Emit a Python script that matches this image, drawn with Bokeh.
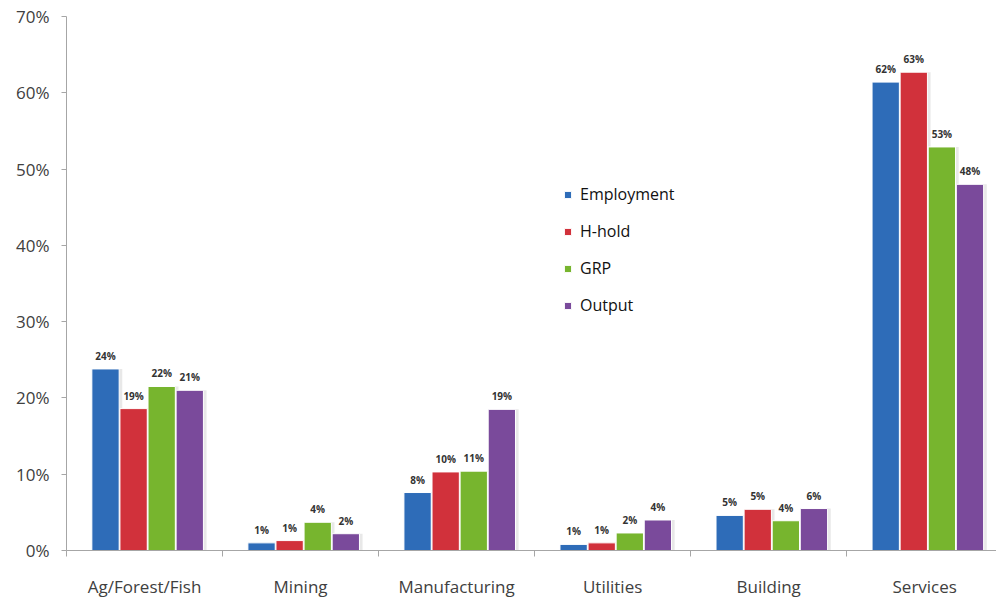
import numpy as np
from bokeh.plotting import figure
from bokeh.models import (ColumnDataSource, Range1d, FixedTicker, Legend, LegendItem)
from bokeh.core.properties import value
from bokeh.transform import dodge
from bokeh.embed import file_html
from bokeh.resources import INLINE

categories = ["Ag/Forest/Fish", "Mining", "Manufacturing", "Utilities", "Building", "Services"]
series = ["Employment", "H-hold", "GRP", "Output"]
employment = [23.8, 1.0, 7.6, 0.8, 4.6, 61.4]
hhold = [18.6, 1.3, 10.3, 1.0, 5.4, 62.7]
grp = [21.5, 3.7, 10.4, 2.3, 3.9, 52.9]
output = [21.0, 2.2, 18.5, 4.0, 5.5, 48.0]
emp_labels = ["24%", "1%", "8%", "1%", "5%", "62%"]
hh_labels = ["19%", "1%", "10%", "1%", "5%", "63%"]
grp_labels = ["22%", "4%", "11%", "2%", "4%", "53%"]
out_labels = ["21%", "2%", "19%", "4%", "6%", "48%"]
y_ticks = [0, 10, 20, 30, 40, 50, 60, 70]
colors = ["#2e6cb8", "#d1313b", "#77b52e", "#7a4a9b"]

values = [employment, hhold, grp, output]
labels = [emp_labels, hh_labels, grp_labels, out_labels]

FONT = "Open Sans"

p = figure(width=996, height=600, output_backend="svg", toolbar_location=None,
           x_range=Range1d(0, 5.96), y_range=Range1d(0, 70),
           min_border_left=66, min_border_right=0, min_border_top=16, min_border_bottom=45)
p.outline_line_color = None
p.xgrid.grid_line_color = None
p.ygrid.grid_line_color = None
p.background_fill_color = "white"
p.border_fill_color = "white"

idx = np.arange(len(categories))
bar_w = 0.175
offsets = [(-1.5 + j) * 0.18 for j in range(4)]

renderers = []
for j, name in enumerate(series):
    xs = idx + 0.52 + offsets[j]
    src = ColumnDataSource(dict(x=xs, top=values[j], lab=labels[j]))
    p.vbar(x=dodge("x", 0.02), top="top", width=bar_w, source=src,
           fill_color="#d8d8d8", line_color=None, fill_alpha=0.6)
    r = p.vbar(x="x", top="top", width=bar_w, source=src,
               fill_color=colors[j], line_color="white", line_width=1)
    renderers.append(r)
    p.text(x="x", y="top", text="lab", source=src, text_align="center",
           text_baseline="bottom", y_offset=-6, text_font=value(FONT),
           text_font_size="10px", text_color="#333333", text_font_style="bold")

# axes
p.yaxis.ticker = FixedTicker(ticks=y_ticks)
p.yaxis.major_label_overrides = {t: f"{t}%" for t in y_ticks}
p.yaxis.minor_tick_line_color = None
p.yaxis.major_tick_out = 5
p.yaxis.major_tick_in = 0
p.yaxis.axis_line_color = "#a6a6a6"
p.yaxis.major_tick_line_color = "#a6a6a6"
p.yaxis.major_label_text_font = FONT
p.yaxis.major_label_text_font_size = "17px"
p.yaxis.major_label_text_color = "#404040"
p.yaxis.major_label_standoff = 12

centers = [i + 0.5 for i in idx]
p.xaxis.ticker = FixedTicker(ticks=centers, minor_ticks=list(range(len(categories) + 1)))
p.xaxis.major_label_overrides = {c: cat for c, cat in zip(centers, categories)}
p.xaxis.major_tick_line_color = None
p.xaxis.minor_tick_line_color = "#a6a6a6"
p.xaxis.minor_tick_out = 6
p.xaxis.minor_tick_in = 0
p.xaxis.axis_line_color = "#a6a6a6"
p.xaxis.major_label_text_font = FONT
p.xaxis.major_label_text_font_size = "17px"
p.xaxis.major_label_text_color = "#404040"
p.xaxis.major_label_standoff = 18

legend = Legend(items=[LegendItem(label=s, renderers=[r]) for s, r in zip(series, renderers)],
                location=(497, 234), glyph_width=9, glyph_height=9, label_height=20,
                spacing=15, padding=0, margin=0, label_standoff=8,
                label_text_font=FONT, label_text_font_size="16px",
                label_text_color="#111111", border_line_color=None,
                background_fill_alpha=0)
p.add_layout(legend, "center")

open("out.html", "w").write(file_html(p, INLINE))
